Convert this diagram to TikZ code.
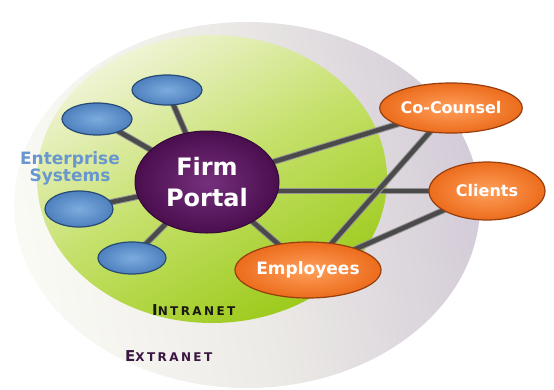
\documentclass[tikz,border=0pt]{standalone}
\usepackage{fontspec}
\setmainfont{DejaVu Sans}
\newfontfamily\capsfont{DejaVu Sans}[LetterSpace=20]
\usetikzlibrary{shapes.geometric}
\definecolor{greyA}{RGB}{250,250,245}
\definecolor{greyB}{RGB}{236,234,230}
\definecolor{greyC}{RGB}{212,204,216}
\definecolor{greenA}{RGB}{240,244,214}
\definecolor{greenB}{RGB}{196,224,104}
\definecolor{greenC}{RGB}{156,202,26}
\definecolor{purpIn}{RGB}{118,48,124}
\definecolor{purpOut}{RGB}{74,14,78}
\definecolor{purpLine}{RGB}{52,8,58}
\definecolor{blueIn}{RGB}{124,172,222}
\definecolor{blueOut}{RGB}{78,128,190}
\definecolor{blueLine}{RGB}{40,74,118}
\definecolor{orIn}{RGB}{255,160,92}
\definecolor{orOut}{RGB}{236,108,28}
\definecolor{orLine}{RGB}{150,62,14}
\definecolor{entblue}{RGB}{104,150,206}
\definecolor{connCore}{RGB}{74,74,74}
\definecolor{connEdge}{RGB}{150,150,150}
\definecolor{intraText}{RGB}{26,24,16}
\definecolor{extraText}{RGB}{58,22,66}
\pgfdeclarelayer{back}
\pgfdeclarelayer{edges}
\pgfsetlayers{back,edges,main}
\begin{document}
\begin{tikzpicture}[x=1pt,y=-1pt,
  hub/.style={ellipse, inner sep=0pt, minimum width=144pt, minimum height=102pt,
    inner color=purpIn, outer color=purpOut, draw=purpLine, line width=1pt,
    text=white, align=center, font=\fontsize{24}{31}\selectfont\bfseries},
  sysnode/.style={ellipse, inner sep=0pt, minimum width=69pt, minimum height=32pt,
    inner color=blueIn, outer color=blueOut, draw=blueLine, line width=1.2pt},
  party/.style={ellipse, inner sep=0pt, minimum width=117pt, minimum height=54pt,
    inner color=orIn, outer color=orOut, draw=orLine, line width=1.2pt,
    text=white, font=\fontsize{16}{18}\selectfont\bfseries},
  conn/.style={draw=connEdge, line width=1pt, double=connCore, double distance=4.5pt},
  zonelabel/.style={anchor=base west, inner sep=0pt, font=\capsfont\bfseries}
]
\useasboundingbox (0,0) rectangle (554,389);
\begin{pgfonlayer}{back}
  \shade[left color=greyA, right color=greyC, middle color=greyB, shading angle=100]
    (247,205) ellipse [x radius=233pt, y radius=183pt];
  \shade[top color=greenA, bottom color=greenC, middle color=greenB, shading angle=30]
    (212,179) ellipse [x radius=175pt, y radius=144pt];
\end{pgfonlayer}

\node[hub] (portal) at (207,182) {Firm\\Portal};
\node[sysnode, minimum width=70pt, minimum height=30pt] (b1) at (167,90) {};
\node[sysnode, minimum width=70pt] (b2) at (97,119) {};
\node[sysnode, minimum width=68pt, minimum height=36pt] (b3) at (79,209) {};
\node[sysnode, minimum width=68pt] (b4) at (132,258) {};
\node[party, minimum height=50pt] (cocounsel) at (451,108) {Co-Counsel};
\node[party, minimum width=116pt, minimum height=58pt] (clients) at (487,191) {Clients};
\node[party, minimum width=116pt, minimum height=56pt, font=\fontsize{17}{19}\selectfont\bfseries] (employees) at (308,270) {Employees};

\node[text=entblue, align=center, inner sep=0pt, font=\fontsize{17}{17}\selectfont\bfseries] (ent) at (70,168) {Enterprise\\Systems};
\node[zonelabel, text=intraText] (intra) at (152,315) {{\fontsize{15}{15}\selectfont I}{\fontsize{12}{12}\selectfont NTRANET}};
\node[zonelabel, text=extraText] (extra) at (125,361) {{\fontsize{15}{15}\selectfont E}{\fontsize{12}{12}\selectfont XTRANET}};

\begin{pgfonlayer}{edges}
  \draw[conn] (portal.center) -- (b1.center);
  \draw[conn] (portal.center) -- (b2.center);
  \draw[conn] (portal.center) -- (b3.center);
  \draw[conn] (portal.center) -- (b4.center);
  \draw[conn] (portal.center) -- (cocounsel.center);
  \draw[conn] (portal.center |- clients.center) -- (clients.center);
  \draw[conn] (portal.center) -- (employees.center);
  \draw[conn] (employees.center) -- (cocounsel.center);
  \draw[conn] (employees.center) -- (clients.center);
\end{pgfonlayer}
\end{tikzpicture}
\end{document}
